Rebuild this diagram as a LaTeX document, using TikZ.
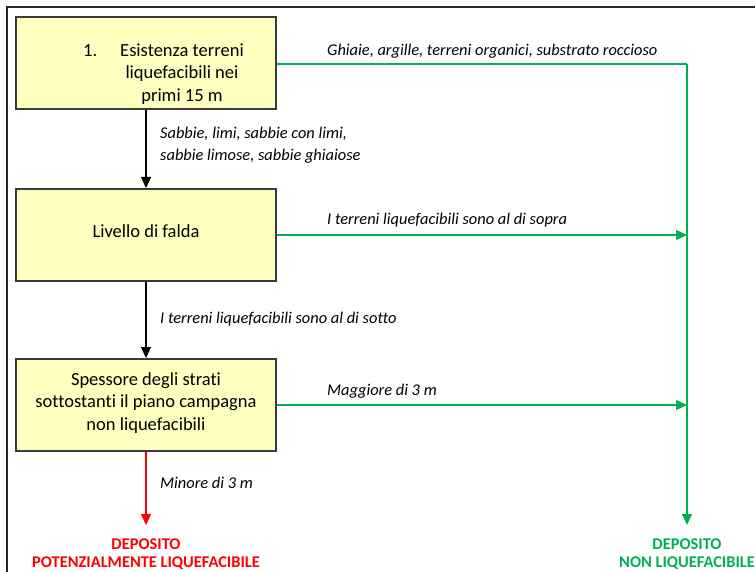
\documentclass[tikz,border=0pt]{standalone}
\usepackage{fontspec}
\setmainfont{Carlito}[Ligatures={NoCommon}]
\usetikzlibrary{arrows.meta}
\definecolor{boxfill}{HTML}{FFFFC0}
\definecolor{boxdraw}{HTML}{3A3A3A}
\definecolor{okgreen}{HTML}{00B050}
\definecolor{badred}{HTML}{FF0000}
\tikzset{
  box/.style={draw=boxdraw, line width=2pt, fill=boxfill, minimum width=260pt, minimum height=92pt, inner sep=0pt},
  boxtext/.style={align=center, font=\fontsize{18.5}{22.5}\selectfont, inner sep=0pt},
  lab/.style={anchor=west, align=left, font=\fontsize{16.4}{22}\selectfont\itshape, inner sep=0pt},
  endtext/.style={align=center, font=\fontsize{16.4}{18.5}\selectfont\bfseries, inner sep=0pt},
  tip/.style={-{Triangle[width=10pt,length=11pt]}},
  blackline/.style={line width=1.2pt, black},
  greenline/.style={line width=1.2pt, okgreen},
  redline/.style={line width=1.2pt, badred}
}
\begin{document}
\begin{tikzpicture}[x=1pt,y=-1pt]
\useasboundingbox (0,0) rectangle (755,572);
\draw[line width=1.5pt, black!85] (7,572) -- (7,7) -- (755,7);
% boxes
\node[box] (b1) at (146,63) {};
\node[boxtext] (t1) at (182,74) {\llap{1.\hspace{23pt}}Esistenza terreni\\ liquefacibili nei\\ primi 15 m};
\node[box] (b2) at (146,235) {};
\node[boxtext] (t2) at (146,231) {Livello di falda};
\node[box] (b3) at (146,405) {};
\node[boxtext] (t3) at (146,403) {Spessore degli strati\\ sottostanti il piano campagna\\ non liquefacibili};
% end texts
\node[endtext, text=badred] (e1) at (146,554) {DEPOSITO\\ POTENZIALMENTE LIQUEFACIBILE};
\node[endtext, text=okgreen] (e2) at (687,554) {DEPOSITO\\ NON LIQUEFACIBILE};
% green collector
\coordinate (g1) at (687,64);
\coordinate (g2) at (687,235);
\coordinate (g3) at (687,405);
\coordinate (gend) at (687,525);
\coordinate (rend) at (146,525);
% connectors
\draw[blackline, tip] (b1.south) -- (b2.north);
\draw[blackline, tip] (b2.south) -- (b3.north);
\draw[redline, tip] (b3.south) -- (rend);
\draw[greenline] (b1.east |- g1) -- (g1);
\draw[greenline, tip] (g1) -- (gend);
\draw[greenline, tip] (b2.east) -- (g2);
\draw[greenline, tip] (b3.east) -- (g3);
% labels
\node[lab] (l1) at (327,51) {Ghiaie, argille, terreni organici, substrato roccioso};
\node[lab] (l2) at (160,145) {Sabbie, limi, sabbie con limi,\\ sabbie limose, sabbie ghiaiose};
\node[lab] (l3) at (327,220) {I terreni liquefacibili sono al di sopra};
\node[lab] (l4) at (160,319) {I terreni liquefacibili sono al di sotto};
\node[lab] (l5) at (327,391) {Maggiore di 3 m};
\node[lab] (l6) at (160,483) {Minore di 3 m};
\end{tikzpicture}
\end{document}
